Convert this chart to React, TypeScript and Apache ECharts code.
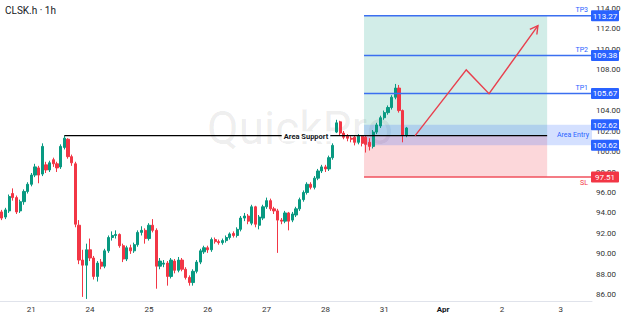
import React, { useEffect, useRef } from "react";
import * as echarts from "echarts";

// ---------- data ----------
const days = ["20", "21", "24", "25", "26", "27", "28", "31", "Apr", "2", "3"];
const barsPerDay = [8, 16, 16, 16, 16, 16, 16, 16, 16, 16, 9];

// [open, close, low, high]
const candles: number[][] = [
  [94.1, 93.5, 93.3, 94.3], [93.6, 94.3, 93.4, 94.5], [94.2, 95.6, 94.0, 95.8], [95.9, 95.5, 95.2, 96.4],
  [95.5, 94.1, 93.9, 95.7], [94.2, 95.1, 94.0, 95.3], [95.1, 96.1, 94.8, 96.3], [96.1, 96.8, 95.9, 97.0],
  [96.8, 97.7, 96.6, 97.9], [97.7, 98.5, 97.5, 98.8], [98.4, 97.7, 96.9, 98.6], [97.8, 100.5, 97.6, 100.8],
  [98.7, 98.2, 97.9, 99.0], [98.2, 98.9, 98.0, 99.1], [99.2, 98.8, 98.5, 99.4], [98.8, 98.4, 98.0, 99.0],
  [98.5, 100.5, 98.3, 100.7], [100.4, 101.3, 100.2, 101.55], [101.2, 99.5, 99.3, 101.3], [99.5, 98.9, 98.6, 99.7],
  [98.8, 92.9, 92.6, 99.0], [92.8, 89.4, 89.0, 93.3], [89.4, 88.9, 85.8, 90.4], [88.9, 90.4, 85.6, 91.0],
  [90.4, 89.6, 89.3, 91.5], [89.6, 87.8, 87.5, 89.8], [87.8, 89.1, 87.3, 89.3], [89.2, 88.8, 88.5, 89.5],
  [88.8, 90.3, 88.6, 90.5], [90.3, 91.6, 90.1, 91.8], [91.6, 91.8, 91.3, 92.2], [91.8, 91.9, 91.5, 92.3],
  [91.9, 90.8, 90.6, 92.0], [90.8, 89.5, 89.2, 91.0], [89.5, 90.6, 89.3, 90.8], [90.6, 90.3, 90.0, 90.9],
  [90.3, 90.9, 90.1, 91.1], [90.9, 92.1, 90.7, 92.3], [92.1, 92.3, 91.8, 92.7], [92.3, 91.5, 91.0, 92.5],
  [91.5, 92.8, 91.3, 93.0], [92.8, 92.3, 92.1, 93.4], [92.3, 88.8, 86.6, 92.5], [88.8, 89.3, 88.5, 89.6],
  [89.0, 89.1, 88.7, 89.4], [89.1, 87.8, 86.9, 89.3], [87.8, 89.4, 87.6, 89.6], [89.3, 88.4, 88.1, 89.5],
  [88.4, 89.4, 88.2, 89.7], [89.4, 88.5, 88.3, 89.6], [88.5, 87.7, 87.5, 88.7], [87.7, 87.2, 86.9, 87.9],
  [87.2, 88.3, 86.9, 88.5], [88.3, 89.2, 88.1, 89.4], [89.2, 90.3, 89.0, 90.5], [90.2, 90.6, 90.0, 90.8],
  [90.6, 90.4, 90.1, 90.8], [90.4, 91.4, 90.2, 91.6], [91.4, 91.2, 91.0, 91.6], [91.2, 91.1, 90.9, 91.4],
  [91.1, 91.3, 90.9, 91.5], [91.3, 91.6, 91.1, 91.8], [91.6, 91.95, 91.4, 92.1], [92.0, 91.8, 91.6, 92.2],
  [91.8, 92.4, 91.6, 92.6], [92.4, 93.5, 92.2, 93.7], [93.5, 93.7, 93.2, 94.0], [93.7, 93.2, 92.9, 93.9],
  [93.0, 94.6, 92.8, 94.8], [94.6, 92.9, 92.6, 94.7], [92.8, 93.6, 92.4, 93.8], [93.5, 94.6, 93.3, 94.8],
  [94.6, 95.2, 94.4, 95.5], [95.2, 94.4, 94.2, 95.4], [94.4, 94.2, 93.9, 94.6], [94.2, 93.3, 90.1, 94.4],
  [93.3, 93.2, 92.9, 93.5], [93.2, 94.0, 93.0, 94.2], [94.0, 93.2, 92.3, 94.1], [93.3, 93.9, 93.1, 94.1],
  [93.8, 94.4, 93.6, 94.6], [94.4, 95.3, 94.2, 95.5], [95.3, 96.0, 95.1, 96.2], [96.0, 96.8, 95.8, 97.0],
  [96.8, 96.5, 96.3, 97.0], [96.5, 97.4, 96.3, 97.6], [97.4, 98.1, 97.2, 98.3], [98.1, 98.5, 97.9, 98.7],
  [98.5, 98.3, 98.0, 98.7], [98.3, 99.4, 98.1, 99.6], [99.4, 100.6, 99.2, 100.8], [101.9, 102.8, 101.8, 103.1],
  [102.9, 101.8, 101.6, 103.0], [101.8, 101.4, 101.2, 102.0], [101.5, 101.3, 101.0, 101.7], [101.3, 101.2, 100.9, 101.5],
  [101.4, 100.9, 100.6, 101.6], [100.9, 101.5, 100.7, 101.7], [101.5, 100.8, 100.5, 101.6], [101.4, 100.7, 99.9, 101.6],
  [100.9, 100.5, 100.1, 101.3], [100.5, 101.9, 100.3, 102.1], [101.9, 102.6, 101.7, 102.8], [102.5, 103.3, 102.3, 103.5],
  [103.3, 103.8, 103.1, 104.0], [103.8, 104.3, 103.6, 104.5], [104.3, 105.3, 104.1, 105.5], [105.3, 106.2, 105.1, 106.6],
  [106.2, 104.0, 103.8, 106.5], [104.0, 101.6, 100.9, 104.1], [101.6, 102.3, 101.4, 102.4],
];

// 106.00 sits fully behind the 105.67 price box in the reference, so it is not listed
const yTickLabels = [86, 88, 90, 92, 94, 96, 98, 100, 102, 104, 108, 110, 112, 114];

const supportLevel = 101.55;
const supportStartIndex = 17;
const zoneStartIndex = 98.5;
const zoneEndIndex = 148.3;
const tpNames = ["TP3", "TP2", "TP1"];
const tpLevels = [113.27, 109.38, 105.67];
const entryTop = 102.62;
const entryBottom = 100.62;
const stopLoss = 97.51;
// projected path: [bar index, price]
const projection: number[][] = [
  [112.4, 101.55],
  [126.3, 107.97],
  [132.5, 105.65],
  [145.8, 112.3],
];

// ---------- styles ----------
const UP = "#089981";
const DOWN = "#f23645";
const BLUE = "#2962ff";
const FONT = "Roboto, 'Noto Sans', sans-serif";

const categories: string[] = [];
days.forEach((d, k) => {
  const first = k === 0 ? 16 - barsPerDay[0] : 0;
  for (let h = 0; h < barsPerDay[k]; h++) categories.push(`${d}|${first + h}`);
});

export default function App() {
  const ref = useRef<HTMLDivElement>(null);

  useEffect(() => {
    document.body.style.margin = "0";
    if (!ref.current) return;
    const chart = echarts.init(ref.current, null, { renderer: "svg" });
    chart.setOption({
      animation: false,
      backgroundColor: "#ffffff",
      grid: { left: -1, top: 0, width: 593, height: 301 },
      xAxis: {
        type: "category",
        data: categories,
        boundaryGap: true,
        axisLine: { show: true, lineStyle: { color: "#e0e3eb", width: 1 } },
        axisTick: { show: false },
        splitLine: { show: false },
        axisLabel: {
          interval: (_i: number, v: string) => v.split("|")[1] === "0",
          formatter: (v: string) => {
            const [d, h] = v.split("|");
            if (h !== "0") return "";
            return d === "Apr" ? "{b|Apr}" : d;
          },
          fontSize: 8,
          color: "#333",
          fontFamily: FONT,
          margin: 4,
          rich: { b: { fontWeight: "bold", fontSize: 8, color: "#131722", fontFamily: FONT } },
        },
      },
      yAxis: {
        type: "value",
        position: "right",
        min: 85.4,
        max: 114.8,
        interval: 0.2,
        scale: true,
        axisLine: { show: false },
        axisTick: { show: false },
        splitLine: { show: false },
        axisLabel: {
          margin: 4,
          fontSize: 8,
          color: "#333",
          fontFamily: FONT,
          formatter: (v: number) => {
            const r = Math.round(v);
            if (Math.abs(v - r) < 0.01 && yTickLabels.includes(r)) return r.toFixed(2);
            return "";
          },
        },
      },
      series: [
        {
          type: "candlestick",
          data: candles,
          barWidth: 2.7,
          z: 5,
          itemStyle: {
            color: UP,
            color0: DOWN,
            borderColor: UP,
            borderColor0: DOWN,
            borderWidth: 1,
          },
        },
      ],
    });

    const p0 = chart.convertToPixel({ xAxisIndex: 0, yAxisIndex: 0 }, [0, 100]) as number[];
    const p1 = chart.convertToPixel({ xAxisIndex: 0, yAxisIndex: 0 }, [1, 100]) as number[];
    const step = p1[0] - p0[0];
    const xOf = (i: number) => p0[0] + i * step;
    const yOf = (v: number) => chart.convertToPixel({ yAxisIndex: 0 }, v) as number;
    const plotRight = xOf(categories.length - 0.5);

    const zx0 = xOf(zoneStartIndex);
    const zx1 = xOf(zoneEndIndex);
    const ySupport = yOf(supportLevel);
    const yTop = yOf(tpLevels[0]);
    const ySL = yOf(stopLoss);
    const yET = yOf(entryTop);
    const yEB = yOf(entryBottom);

    const g: any[] = [];
    // watermark
    g.push({
      type: "text",
      z: 1,
      style: {
        text: "QuickPro",
        x: 300,
        y: 128,
        align: "center",
        verticalAlign: "middle",
        font: `46px ${FONT}`,
        fill: "rgba(0,0,0,0.075)",
      },
    });
    // zones
    g.push({ type: "rect", z: 2, shape: { x: zx0, y: yTop, width: zx1 - zx0, height: ySupport - yTop }, style: { fill: "rgba(8,153,129,0.18)" } });
    g.push({ type: "rect", z: 2, shape: { x: zx0, y: ySupport, width: zx1 - zx0, height: ySL - ySupport }, style: { fill: "rgba(242,54,69,0.2)" } });
    g.push({ type: "rect", z: 3, shape: { x: zx0, y: yET, width: plotRight - zx0, height: yEB - yET }, style: { fill: "rgba(41,98,255,0.2)" } });
    g.push({
      type: "text", z: 12,
      style: { text: "Area Entry", x: plotRight - 3, y: (yET + yEB) / 2, align: "right", verticalAlign: "middle", font: `7px ${FONT}`, fill: BLUE },
    });

    // support line
    const sx0 = xOf(supportStartIndex);
    g.push({ type: "line", z: 10, shape: { x1: sx0, y1: ySupport, x2: zx1, y2: ySupport }, style: { stroke: "#000", lineWidth: 1.2 } });
    g.push({
      type: "text", z: 11,
      style: {
        text: "Area Support", x: 306, y: ySupport + 0.5, align: "center", verticalAlign: "middle",
        font: `bold 7.5px ${FONT}`, fill: "#131722", backgroundColor: "#ffffff", padding: [1, 2],
      },
    });

    // TP lines
    tpLevels.forEach((lv, k) => {
      const y = yOf(lv);
      g.push({ type: "line", z: 10, shape: { x1: zx0, y1: y, x2: plotRight, y2: y }, style: { stroke: "#3b6ff0", lineWidth: 1.5 } });
      g.push({
        type: "text", z: 11,
        style: { text: tpNames[k], x: plotRight - 4, y: y - 2, align: "right", verticalAlign: "bottom", font: `7px ${FONT}`, fill: BLUE },
      });
    });
    // SL line
    g.push({ type: "line", z: 10, shape: { x1: zx0, y1: ySL, x2: plotRight, y2: ySL }, style: { stroke: "#f0505d", lineWidth: 1.5 } });
    g.push({
      type: "text", z: 11,
      style: { text: "SL", x: plotRight - 4, y: ySL + 2, align: "right", verticalAlign: "top", font: `7px ${FONT}`, fill: DOWN },
    });

    // projection arrow
    const pts = projection.map(([i, v]) => [xOf(i), yOf(v)]);
    g.push({ type: "polyline", z: 10, shape: { points: pts }, style: { stroke: "#e8404e", lineWidth: 1.4, fill: null } });
    const [ax, ay] = pts[pts.length - 1];
    const [bx, by] = pts[pts.length - 2];
    const ang = Math.atan2(ay - by, ax - bx);
    const headLen = 9;
    const spread = 0.5;
    g.push({
      type: "polyline", z: 10,
      shape: {
        points: [
          [ax - headLen * Math.cos(ang - spread), ay - headLen * Math.sin(ang - spread)],
          [ax, ay],
          [ax - headLen * Math.cos(ang + spread), ay - headLen * Math.sin(ang + spread)],
        ],
      },
      style: { stroke: "#e8404e", lineWidth: 1.4, fill: null },
    });

    // price boxes
    const boxes = [
      ...tpLevels.map((v) => ({ v, c: BLUE })),
      { v: entryTop, c: BLUE },
      { v: entryBottom, c: BLUE },
      { v: stopLoss, c: DOWN },
    ];
    boxes.forEach(({ v, c }) => {
      const y = yOf(v);
      g.push({ type: "rect", z: 20, shape: { x: plotRight - 1, y: y - 5.5, width: 28, height: 11, r: 1 }, style: { fill: c } });
      g.push({
        type: "text", z: 21,
        style: { text: v.toFixed(2), x: plotRight + 13, y: y + 0.5, align: "center", verticalAlign: "middle", font: `8px ${FONT}`, fill: "#ffffff" },
      });
    });

    // title
    g.push({
      type: "text", z: 30,
      style: { text: "CLSK.h · 1h", x: 5, y: 10, verticalAlign: "middle", font: `10px ${FONT}`, fill: "#131722" },
    });

    chart.setOption({ graphic: g });
    return () => chart.dispose();
  }, []);

  return <div ref={ref} style={{ width: 624, height: 316, position: "absolute", left: 0, top: 0 }} />;
}
